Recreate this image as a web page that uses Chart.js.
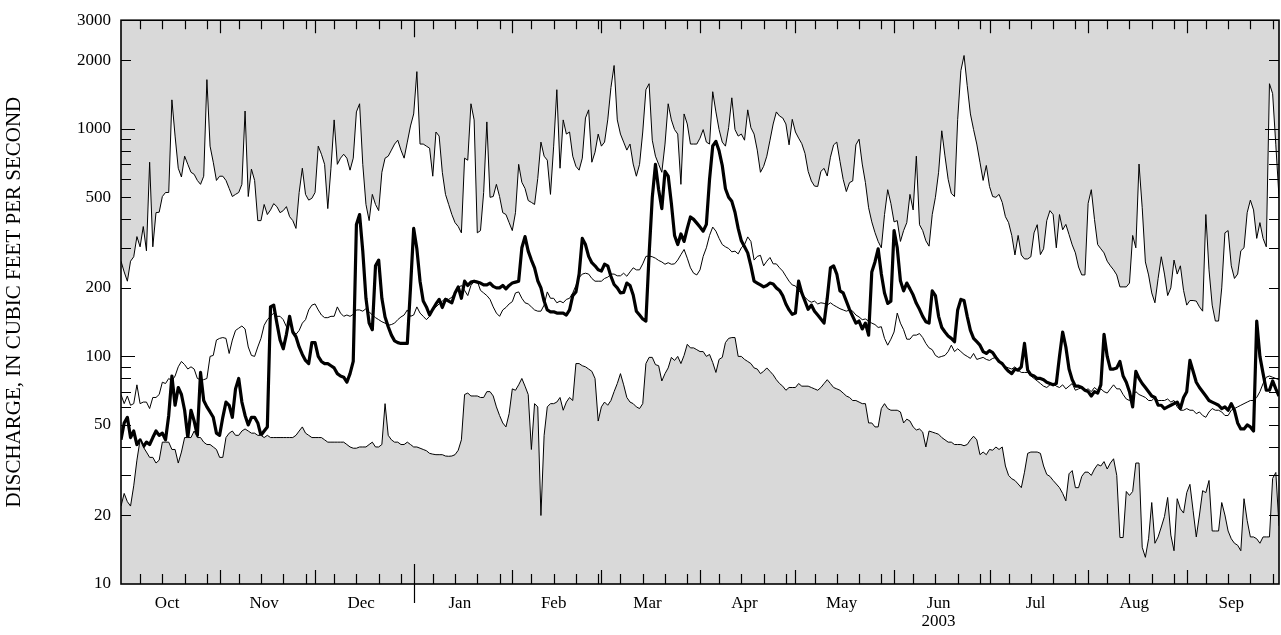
<!DOCTYPE html>
<html><head><meta charset="utf-8">
<script src="https://cdn.jsdelivr.net/npm/chart.js@4.4.1/dist/chart.umd.min.js"></script>
<style>html,body{margin:0;padding:0;background:#fff;}#wrap{width:1281px;height:635px;}</style>
</head><body><div id="wrap"><canvas id="c" width="1281" height="635"></canvas></div>
<script>
const monthNames = ['Oct','Nov','Dec','Jan','Feb','Mar','Apr','May','Jun','Jul','Aug','Sep'];
const monthStarts = [0,31,61,92,123,151,182,212,243,273,304,335];
const monthLengths = [31,30,31,31,28,31,30,31,30,31,31,30];
const yearBoundary = 92;
const yTickValues = [10,20,50,100,200,500,1000,2000,3000];
const yMinorValues = [20,30,40,50,60,70,80,90,100,200,300,400,500,600,700,800,900,1000,2000];

const maxQ = [
262,235,214,262,274,336,303,372,291,713,
303,428,430,504,525,525,1340,929,671,614,
758,698,644,631,593,570,619,1644,839,713,
593,619,619,593,547,504,515,525,570,1197,
504,665,593,395,395,465,420,440,469,455,
428,437,455,411,395,365,525,671,515,486,
495,525,839,773,698,446,671,1094,698,743,
773,743,658,743,1186,1288,698,465,395,515,
465,437,644,743,758,806,857,891,806,743,
874,1029,1162,1783,857,857,839,822,619,968,
929,644,515,465,420,387,372,349,743,728,
1288,1094,349,357,525,1072,500,504,570,504,
428,420,387,357,428,698,582,547,484,475,
465,605,874,758,728,515,839,1485,671,1094,
948,968,758,684,658,743,1116,1211,713,789,
948,839,874,1094,1517,1897,1094,948,874,806,
857,700,619,698,968,1485,1578,891,758,698,
644,857,1288,1094,992,948,570,1162,1050,857,
857,857,910,992,874,857,1455,1186,992,874,
839,1011,1368,992,929,948,891,1211,1011,948,
806,644,684,758,891,1050,1186,1138,1116,1050,
850,1100,968,910,860,780,650,590,560,558,
650,670,620,750,850,874,720,600,530,580,
590,850,900,700,580,450,390,350,320,300,
420,540,470,390,395,320,357,387,515,440,
758,379,357,322,305,420,500,644,980,760,
600,520,504,1100,1800,2099,1546,1162,992,857,
713,593,690,558,504,500,515,475,411,387,
340,279,340,279,268,268,274,349,379,280,
297,395,437,420,300,420,360,380,343,309,
285,247,228,228,470,540,400,310,297,285,
262,250,240,228,202,202,202,210,340,300,
700,450,260,228,190,172,220,274,230,185,
200,265,230,250,195,168,176,176,175,165,
158,420,240,168,143,143,200,349,357,250,
220,230,291,300,428,486,440,330,387,330,
303,1578,1426,850,500
];

const medianQ = [
68,62,67,61,62,75,62,63,63,59,
66,66,68,77,76,80,78,82,90,95,
92,88,90,88,80,79,79,80,100,101,
118,120,121,120,103,118,130,133,136,132,
110,101,100,110,120,137,145,150,155,150,
150,145,135,140,130,125,130,140,145,160,
168,170,160,152,148,148,150,150,165,155,
150,152,150,153,160,160,158,162,157,152,
148,145,142,140,137,138,140,145,149,152,
160,150,152,165,155,150,145,150,160,165,
170,175,180,178,182,190,200,205,195,185,
205,214,214,195,190,185,178,165,155,150,
160,164,170,174,190,192,180,172,170,165,
160,158,158,168,192,180,180,172,175,172,
178,180,190,205,222,230,232,230,220,214,
214,214,220,223,230,230,226,226,232,225,
235,245,240,240,255,275,276,274,270,264,
260,254,258,254,255,265,280,295,270,245,
232,228,240,275,300,340,370,355,330,310,
303,298,288,290,282,300,310,335,320,265,
275,278,250,262,272,255,255,245,237,225,
214,206,204,195,188,182,176,173,175,170,
172,171,168,172,168,165,162,160,158,160,
158,152,149,145,146,143,140,138,134,135,
120,112,119,128,155,140,131,119,119,124,
124,126,121,114,109,107,101,99,100,101,
105,112,105,108,105,102,100,98,103,97,
98,99,97,96,98,99,96,93,90,89,
88,90,87,85,85,85,82,80,78,76,
74,73,75,76,74,73,75,72,74,76,
71,72,73,71,72,70,73,71,72,70,
69,72,75,72,72,68,65,64,67,70,
68,67,66,64,64,66,64,64,64,65,
63,64,60,58,58,59,58,58,56,57,
55,54,57,59,58,58,57,55,55,58,
59,60,61,62,63,64,64,66,70,76,
81,82,81,80,79
];

const currentQ = [
43,51,54,44,47,41,43,40,42,41,
44,47,45,46,43,55,82,61,73,68,
58,44,58,52,45,85,64,60,57,54,
46,45,54,63,61,54,72,80,63,55,
50,54,54,51,45,47,49,165,168,140,
118,108,125,150,128,122,110,102,96,93,
115,115,100,95,93,93,91,89,84,82,
81,77,84,95,380,420,290,180,140,131,
250,265,180,149,135,124,117,115,114,114,
114,200,365,297,214,175,165,152,161,170,
178,164,178,175,172,190,202,180,214,205,
212,214,212,210,206,206,210,203,200,200,
205,198,205,210,212,214,300,336,290,265,
245,215,200,175,160,157,157,155,155,155,
152,160,185,192,230,330,310,275,258,250,
240,237,254,250,225,207,200,190,191,210,
205,186,158,152,146,143,280,500,698,540,
446,650,620,470,340,310,345,320,365,410,
400,385,370,355,380,600,840,880,800,690,
545,500,480,430,365,322,303,285,250,214,
210,206,202,205,210,208,200,195,185,170,
160,153,155,214,190,175,161,168,158,152,
146,140,180,245,250,230,194,190,175,161,
150,140,143,132,140,124,235,260,297,230,
190,171,175,357,300,215,194,210,198,186,
171,161,150,142,140,194,185,150,134,128,
123,120,116,160,178,176,150,130,120,116,
112,105,103,106,104,99,95,93,89,86,
84,88,87,90,114,87,83,82,80,80,
79,77,76,75,76,100,128,110,88,79,
74,74,73,71,70,67,70,69,75,125,
100,88,88,89,95,82,77,70,60,86,
80,76,73,70,67,66,61,61,59,60,
61,62,63,59,66,70,96,86,77,73,
70,67,64,63,62,61,59,60,58,62,
58,51,48,48,50,49,47,143,100,84,
71,71,78,72,67
];

const minQ = [
22,25,23,22,27,35,43,40,38,36,
36,34,35,42,42,42,39,39,34,38,
44,44,44,47,44,44,42,41,41,40,
39,36,36,44,46,47,45,45,47,48,
47,46,46,45,45,44,45,44,44,44,
44,44,44,44,44,45,47,49,46,45,
44,44,44,44,43,42,42,42,42,42,
42,41,40,39.5,39.5,40,40,40,41,42,
40,40,41,62,45,43,42,42,41,41,
42,41,40,40,39.5,39,38.5,37.5,37.2,37,
37,37,36.5,36.4,36.5,37,38.7,43,68,69,
67,67,67,66,66,70,70,67,60,55,
51,49,56,72,71,75,80,74,68,39,
62,60,20,45,60,62,62,63,66,58,
63,66,64,93,93,91,90,88,86,80,
52,60,63,61,64,70,76,84,75,66,
63,62,60,59,62,93,99,99,92,91,
78,84,89,99,96,100,93,101,113,109,
109,107,105,105,100,102,94,85,97,99,
115,120,121,121,100,100,97,95,93,89,
88,84,86,89,86,83,79,76,74,71,
73,73,73,76,74,74,74,73,72,71,
73,76,79,76,73,72,71,69,67,66,
64,64,63,62,62,51,51,49,49,59,
62,59,58,58,58,57,51,53,52,49,
47.5,48,46.5,40,47,46.5,46,45.5,44,43,
42,42,41,41,41,40.5,41,43,44.6,43,
37,38,37,39,38.7,40,39,40,33,30,
29,28.5,27.5,26.5,31,37.5,38,38,38,37.5,
33,30.3,29.7,28.5,27.5,26.5,25,23.2,30.5,31.5,
26.5,26.5,29.7,31,31,30,32,33.5,33,34.5,
32,34,35.5,30,16,16,25.5,24.5,25.5,34,
34,14.5,13.1,15.8,22.8,15.1,16.1,17.8,19.8,24,
16.4,14,23.7,21.4,20.5,25.2,27.4,21,16.1,20.1,
25.7,25.2,28.5,17.1,17.1,17.1,22.8,20.1,17.1,15.8,
15.1,14.8,14,23.7,19,16.1,16.1,15.8,15.1,16.1,
16.1,16.1,29.1,30.9,18
];

const FONT = "'Liberation Serif','Times New Roman',serif";
const GRAY = '#d9d9d9';
const toPoints = arr => arr.map((v, i) => ({x: i, y: v}));

const framePlugin = {
  id: 'frame',
  afterDatasetsDraw(chart) {
    const {ctx, chartArea: a, scales: {x, y}} = chart;
    ctx.save();
    ctx.strokeStyle = '#000';
    ctx.lineWidth = 1.2;
    ctx.beginPath();
    monthStarts.forEach((m) => {
      if (m > 0) {
        const px = Math.round(x.getPixelForValue(m)) + 0.5;
        if (m === yearBoundary) {
          ctx.moveTo(px, a.bottom - 20); ctx.lineTo(px, a.bottom + 19);
          ctx.moveTo(px, a.top); ctx.lineTo(px, a.top + 17);
        } else {
          ctx.moveTo(px, a.bottom); ctx.lineTo(px, a.bottom - 14);
          ctx.moveTo(px, a.top); ctx.lineTo(px, a.top + 13);
        }
      }
      [6, 13, 20, 27].forEach(d => {
        const px = Math.round(x.getPixelForValue(m + d)) + 0.5;
        ctx.moveTo(px, a.bottom); ctx.lineTo(px, a.bottom - 10);
        ctx.moveTo(px, a.top); ctx.lineTo(px, a.top + 9);
      });
    });
    yMinorValues.forEach(v => {
      const py = Math.round(y.getPixelForValue(v)) + 0.5;
      const len = (v === 100 || v === 1000) ? 14 : 10;
      ctx.moveTo(a.left, py); ctx.lineTo(a.left + len, py);
      ctx.moveTo(a.right, py); ctx.lineTo(a.right - len, py);
    });
    ctx.stroke();
    ctx.lineWidth = 1.6;
    ctx.strokeRect(a.left, a.top, a.right - a.left, a.bottom - a.top);
    ctx.restore();
  }
};

new Chart(document.getElementById('c').getContext('2d'), {
  type: 'line',
  data: {
    datasets: [
      {label: 'Maximum', data: toPoints(maxQ), borderColor: '#000', borderWidth: 1, pointRadius: 0, fill: 'end', backgroundColor: GRAY, tension: 0},
      {label: 'Minimum', data: toPoints(minQ), borderColor: '#000', borderWidth: 1, pointRadius: 0, fill: 'start', backgroundColor: GRAY, tension: 0},
      {label: 'Median', data: toPoints(medianQ), borderColor: '#000', borderWidth: 1, pointRadius: 0, fill: false, tension: 0},
      {label: '2003', data: toPoints(currentQ), borderColor: '#000', borderWidth: 3.2, pointRadius: 0, fill: false, tension: 0, borderJoinStyle: 'round'}
    ]
  },
  options: {
    responsive: false,
    animation: false,
    devicePixelRatio: 1,
    layout: {padding: {top: 18, right: 2, left: 0, bottom: 0}},
    plugins: {legend: {display: false}, tooltip: {enabled: false}},
    scales: {
      x: {
        type: 'linear', min: 0, max: 364,
        grid: {display: false, drawTicks: false},
        border: {display: false},
        afterBuildTicks: s => { s.ticks = monthStarts.map((m, i) => ({value: m + monthLengths[i] / 2 - 1})); },
        afterFit: s => { s.height = 51; },
        ticks: {
          autoSkip: false, maxRotation: 0, minRotation: 0, padding: 11, color: '#000',
          font: {family: FONT, size: 17, lineHeight: 1.05},
          callback: (v, i) => (i === 8 ? [monthNames[i], '2003'] : monthNames[i])
        }
      },
      y: {
        type: 'logarithmic', min: 10, max: 3000,
        grid: {display: false, drawTicks: false},
        border: {display: false},
        afterBuildTicks: s => { s.ticks = yTickValues.map(v => ({value: v})); },
        afterFit: s => { s.width = 121; },
        ticks: {padding: 10, color: '#000', font: {family: FONT, size: 17}, callback: v => String(v)},
        title: {display: true, text: 'DISCHARGE, IN CUBIC FEET PER SECOND', color: '#000', font: {family: FONT, size: 21}, padding: {top: 2, bottom: 0}}
      }
    }
  },
  plugins: [framePlugin]
});
</script>
</body></html>
